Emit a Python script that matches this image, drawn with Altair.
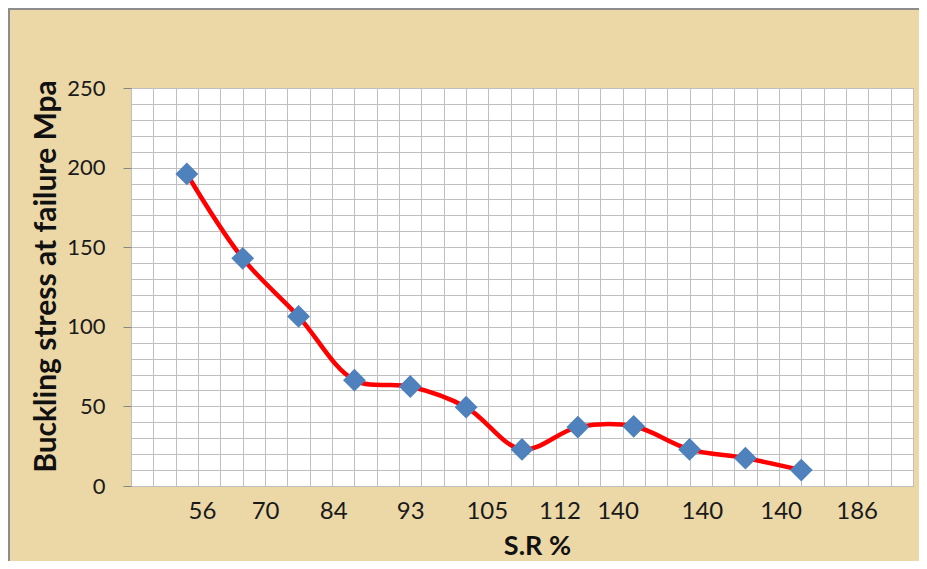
import altair as alt
import pandas as pd

# ---- data ----
specimen = list(range(1, 13))
stress = [196, 143, 106.5, 66.5, 62.5, 49.5, 23, 37, 37.5, 23, 17.5, 10]

sr_labels = ["56", "70", "84", "93", "105", "112", "140", "140", "140", "186"]
sr_label_pos = [1.27, 2.40, 3.62, 5.00, 6.37, 7.67, 8.71, 10.22, 11.63, 12.99]

x_grid = [round(0.4 * i, 1) for i in range(36)]
y_grid = list(range(0, 251, 10))

df = pd.DataFrame({"specimen": specimen, "stress": stress})

W, H = 782, 398
PAD = {"left": 123, "top": 80, "right": 6, "bottom": 75}
FONT = "Lato"

xscale = alt.Scale(domain=[0, 14], nice=False, zero=False)
yscale = alt.Scale(domain=[0, 250], nice=False)

label_expr = (
    "[" + ",".join(f"'{l}'" for l in sr_labels) + "]"
    + "[indexof([" + ",".join(str(p) for p in sr_label_pos) + "], datum.value)]"
)

grid_axis = alt.Axis(
    orient="bottom", values=x_grid, grid=True, gridColor="#BFBFBF", gridWidth=1,
    labels=False, ticks=False, domain=False, title=None,
)

label_axis = alt.Axis(
    orient="bottom", values=sr_label_pos, grid=False, ticks=False, domain=False,
    labelExpr=label_expr, labelFont=FONT, labelFontSize=24, labelColor="#1A1A1A",
    labelPadding=13, labelOverlap=False, labelFlush=False,
    title="S.R %", titleFont=FONT, titleFontSize=27, titleFontWeight="bold",
    titleColor="#111111", titleX=406, titleY=68, titleBaseline="alphabetic",
    titleAlign="center",
)

y_axis = alt.Axis(
    orient="left", values=y_grid, grid=True, gridColor="#BFBFBF", gridWidth=1, domain=False,
    labelExpr="datum.value % 50 === 0 ? datum.label : ''",
    tickOpacity={"condition": {"test": "datum.value % 50 === 0", "value": 1}, "value": 0},
    tickSize=8, tickColor="#868686", tickWidth=1,
    labelFont=FONT, labelFontSize=22, labelColor="#1A1A1A", labelPadding=18,
    labelOverlap=False,
    title="Buckling stress at failure Mpa", titleFont=FONT, titleFontSize=30,
    titleFontWeight="bold", titleColor="#111111", titleAngle=270,
    titleX=-76, titleY=188, titleBaseline="alphabetic", titleAlign="center",
)

frame_data = alt.Data(values=[{}])
frame_left = alt.Chart(frame_data).mark_rule(color="#8C8C8C", strokeWidth=2).encode(
    x=alt.value(-PAD["left"] + 1),
    y=alt.value(-PAD["top"]), y2=alt.value(H + PAD["bottom"]),
)
frame_top = alt.Chart(frame_data).mark_rule(color="#8C8C8C", strokeWidth=2).encode(
    y=alt.value(-PAD["top"] + 1),
    x=alt.value(-PAD["left"]), x2=alt.value(W + PAD["right"]),
)

line = alt.Chart(df).mark_line(
    color="#FF0000", strokeWidth=4.5, interpolate="catmull-rom"
).encode(
    x=alt.X("specimen:Q", scale=xscale, axis=grid_axis),
    y=alt.Y("stress:Q", scale=yscale, axis=y_axis),
)

points = alt.Chart(df).mark_point(
    shape="diamond", filled=True, size=520, color="#4F81BD", opacity=1
).encode(
    x=alt.X("specimen:Q", scale=xscale, axis=label_axis),
    y=alt.Y("stress:Q", scale=yscale, axis=None),
)

chart = alt.layer(line, points, frame_left, frame_top).resolve_axis(
    x="independent", y="independent"
).properties(
    width=W, height=H,
    padding=PAD,
    autosize=alt.AutoSizeParams(type="none"),
    background="#ECD8A6",
).configure_view(
    stroke="#9A9A9A", strokeWidth=1, fill="white"
)

chart.save("out.html", embed_options={"renderer": "svg", "actions": False})
